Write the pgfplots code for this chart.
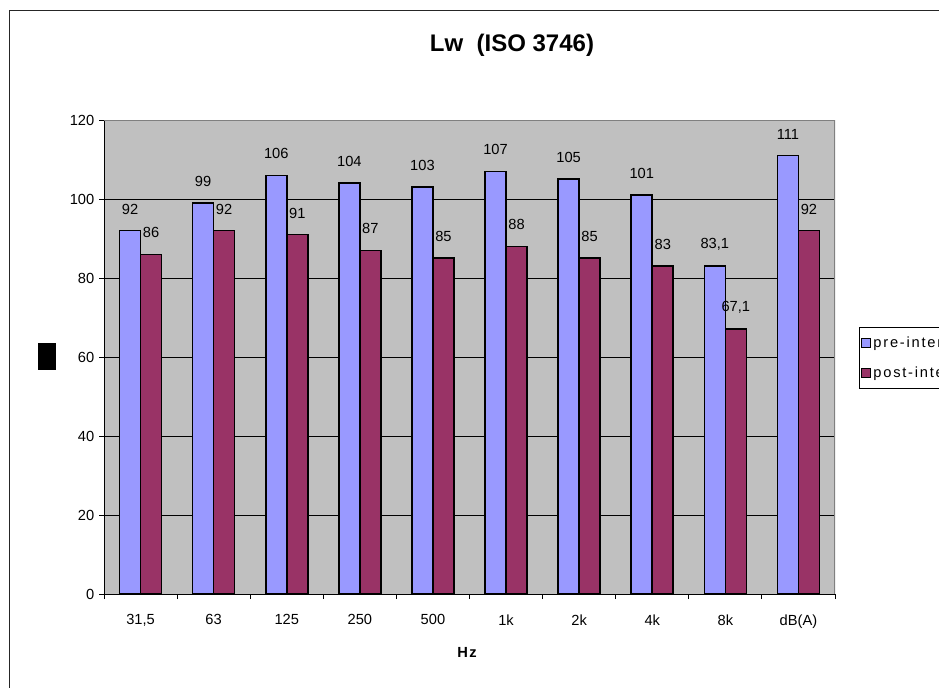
\documentclass[border=0pt]{standalone}
\usepackage{fontspec}
\setmainfont{Liberation Sans}
\usepackage{pgfplots}
\usepackage{pgfplotstable}
\pgfplotsset{compat=1.18}
\definecolor{pre}{HTML}{9999FF}
\definecolor{post}{HTML}{993366}
\definecolor{plotbg}{HTML}{C0C0C0}
\definecolor{pborder}{HTML}{808080}

\pgfplotstableread{
x pre post
0 92 86
1 99 92
2 106 91
3 104 87
4 103 85
5 107 88
6 105 85
7 101 83
8 83.1 67.1
9 111 92
}\datatable

\begin{document}
\begin{tikzpicture}
\path[use as bounding box, clip] (0pt,0pt) rectangle (704.25pt,515.25pt);
\draw[line width=0.75pt, black!85] (7.125pt,-15pt) -- (7.125pt,507.375pt) -- (720pt,507.375pt);
\node[font=\fontsize{18}{20}\selectfont\bfseries] at (384pt,481.5pt) {Lw\ \ (ISO 3746)};
\fill (28.5pt,237.75pt) rectangle (42pt,258pt);
\begin{axis}[
  at={(78pt,69.75pt)}, anchor=south west, scale only axis,
  width=548.25pt, height=355.5pt,
  xmin=-0.5, xmax=9.5, ymin=0, ymax=120,
  ytick={0,20,...,120},
  xtick={-0.5,0.5,...,9.5}, xticklabels={},
  extra x ticks={0,...,9},
  extra x tick labels={{31,5},63,125,250,500,1k,2k,4k,8k,dB(A)},
  extra x tick style={major tick length=0pt, grid=none, xticklabel style={yshift=-12pt}},
  tick align=outside, tick pos=left, major tick length=3.75pt,
  tick style={black, line width=0.75pt},
  ymajorgrids, grid style={black, line width=0.75pt},
  axis line style={draw=none},
  axis background/.style={fill=plotbg},
  ticklabel style={font=\fontsize{11}{13}\selectfont},
  /pgf/number format/use comma,
  /pgf/number format/assume math mode=true,
  xlabel={\textbf{H\kern1.2pt z}},
  xlabel style={at={(axis description cs:0.4966,0)}, anchor=center, yshift=-43.5pt, font=\fontsize{11}{13}\selectfont},
  nodes near coords,
  every node near coord/.append style={anchor=center, yshift=16.1pt, font=\fontsize{11}{13}\selectfont, text=black},
  legend style={at={(1.0328,0.5633)}, anchor=north west, draw=black, line width=0.75pt, fill=white,
    font=\fontsize{11}{12}\selectfont\addfontfeatures{LetterSpace=12}, inner xsep=1.5pt, inner ysep=5.5pt, row sep=10pt,
    nodes={inner sep=1.5pt}},
  legend cell align=left,
]
\addplot[ybar, bar width=0.2873, bar shift=-0.14365, fill=pre, draw=black, line width=1.2pt,
  every node near coord/.append style={xshift=-7.875pt},
  legend image code/.code={\draw[fill=pre, draw=black, line width=0.75pt] (0pt,-3.4pt) rectangle (6.75pt,3.4pt);}]
  table[x=x,y=pre] {\datatable};
\addplot[ybar, bar width=0.2873, bar shift=0.14365, fill=post, draw=black, line width=1.2pt,
  every node near coord/.append style={xshift=7.875pt},
  legend image code/.code={\draw[fill=post, draw=black, line width=0.75pt] (0pt,-3.4pt) rectangle (6.75pt,3.4pt);}]
  table[x=x,y=post] {\datatable};
\legend{pre-intervento, post-intervento}
\draw[black, line width=0.75pt] (rel axis cs:0,1) -- (rel axis cs:0,0) -- (rel axis cs:1,0);
\draw[pborder, line width=1.5pt] (rel axis cs:0,1) -- (rel axis cs:1,1) -- (rel axis cs:1,0);
\end{axis}
\end{tikzpicture}
\end{document}
